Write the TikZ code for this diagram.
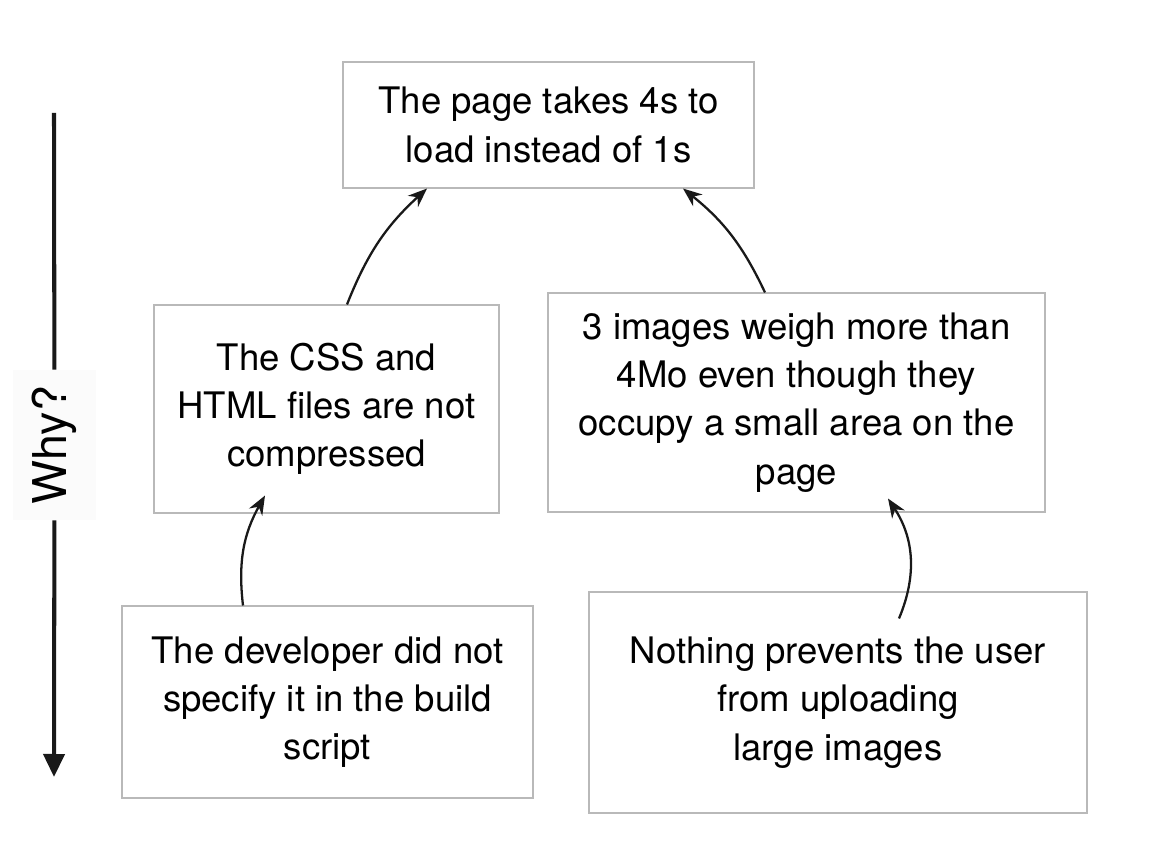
\documentclass[tikz,border=0pt]{standalone}
\usepackage{fontspec}
\setmainfont{TeX Gyre Heros}
\usetikzlibrary{arrows.meta}
\definecolor{boxgray}{RGB}{185,185,185}
\definecolor{arrowblack}{RGB}{25,25,25}

\begin{document}
\begin{tikzpicture}[every node/.style={font=\fontsize{20.8}{27.5}\selectfont},
        cause/.style={draw=boxgray, line width=0.6pt, fill=white, align=center, inner sep=0pt},
        link/.style={arrowblack, line width=1.3pt, -{Stealth[length=0.38cm,width=0.3cm]}}]
        \useasboundingbox (0,0) rectangle (23.44,17.2);
        \node[cause, minimum width=8.22cm, minimum height=2.52cm] (page) at (10.97,14.70) {The page takes 4s to\\load instead of 1s};
        \node[cause, minimum width=6.9cm, minimum height=4.16cm] (css) at (6.53,9.02) {The CSS and\\HTML files are not\\compressed};
        \node[cause, minimum width=9.94cm, minimum height=4.38cm] (images) at (15.93,9.15) {3 images weigh more than\\4Mo even though they\\occupy a small area on the\\page};
        \node[cause, minimum width=8.22cm, minimum height=3.84cm] (dev) at (6.55,3.16) {The developer did not\\specify it in the build\\script};
        \node[cause, minimum width=9.96cm, minimum height=4.42cm] (user) at (16.76,3.15) {Nothing prevents the user\\from uploading\\large images};
        \coordinate (whytop) at (1.08,14.94);
        \coordinate (whyend) at (1.08,1.66);
        \node[fill=gray!3, rotate=90, minimum width=3cm, minimum height=1.66cm, inner sep=0pt, font=\fontsize{26.5}{30}\selectfont] (why) at (1.09,8.3) {Why?};
        \draw[arrowblack, line width=2.3pt] (whytop) -- (why);
        \draw[arrowblack, line width=2.3pt, -{Triangle[length=0.46cm,width=0.42cm]}] (why) -- (whyend);
        \draw[link] ([xshift=0.41cm]css.north) to[bend left=13] ([xshift=-2.43cm]page.south);
        \draw[link] ([xshift=-0.63cm]images.north) to[bend right=13] ([xshift=2.69cm]page.south);
        \draw[link] ([xshift=-1.69cm]dev.north) to[bend left=18] ([shift={(-1.23,0.36)}]css.south);
        \draw[link] ([shift={(1.22,-0.54)}]user.north) to[bend right=28] ([shift={(1.83,0.28)}]images.south);
    \end{tikzpicture}
\end{document}
